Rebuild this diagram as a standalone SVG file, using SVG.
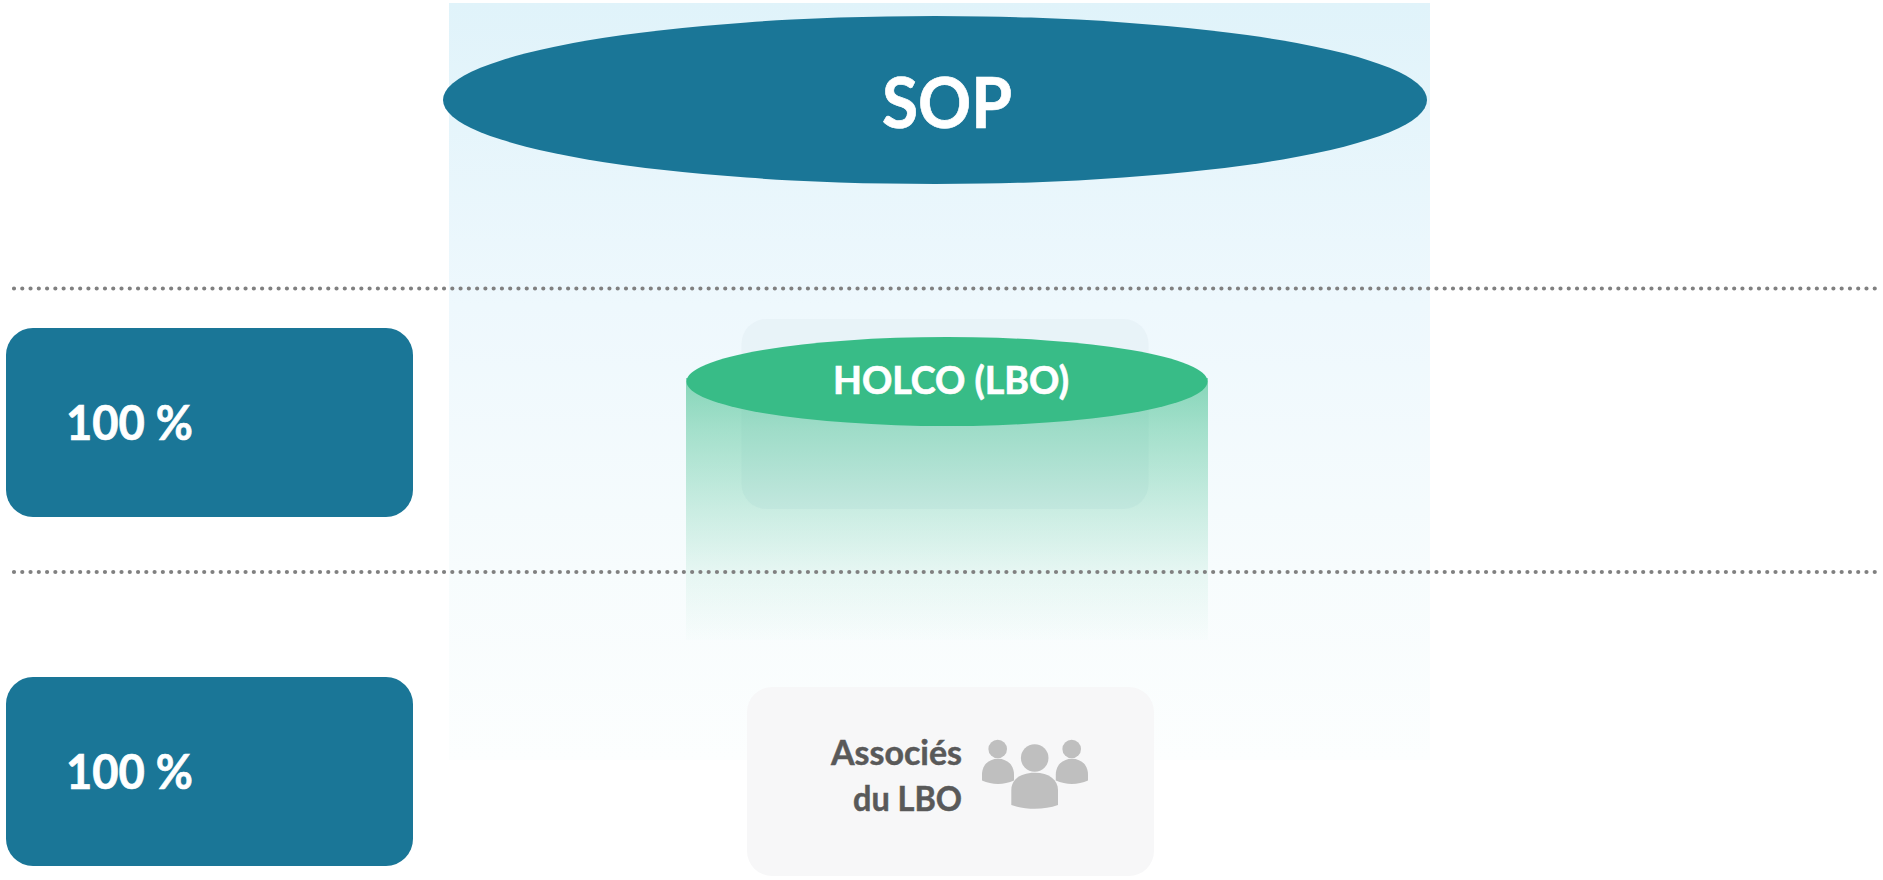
<svg xmlns="http://www.w3.org/2000/svg" width="1883" height="880" viewBox="0 0 1883 880">
  <style>
    text { font-family: "Lato", "Open Sans", sans-serif; font-weight: 700; }
    .w { fill: #ffffff; stroke: #ffffff; stroke-width: 0.7; }
    .g { fill: #595959; stroke: #595959; stroke-width: 0.5; font-size: 34px; text-anchor: end; }
    .pct { font-size: 47px; }
    .box { fill: #1a7697; }
    .p { fill: #bfbfbf; }
    .dots { fill: none; stroke: #808080; stroke-width: 4.2; stroke-linecap: round; stroke-dasharray: 0 8.27; }
  </style>
  <defs>
    <linearGradient id="bg" x1="0" y1="0" x2="0" y2="1">
      <stop offset="0" stop-color="#e0f3fa"/>
      <stop offset="0.4" stop-color="#eef8fd"/>
      <stop offset="0.75" stop-color="#f7fcfd"/>
      <stop offset="1" stop-color="#fcfefe"/>
    </linearGradient>
    <linearGradient id="cyl" x1="0" y1="0" x2="0" y2="1">
      <stop offset="0" stop-color="#38bc87" stop-opacity="0.58"/>
      <stop offset="0.2" stop-color="#38bc87" stop-opacity="0.42"/>
      <stop offset="0.5" stop-color="#38bc87" stop-opacity="0.23"/>
      <stop offset="0.74" stop-color="#38bc87" stop-opacity="0.09"/>
      <stop offset="1" stop-color="#38bc87" stop-opacity="0.01"/>
    </linearGradient>
  </defs>
  <rect width="1883" height="880" fill="#ffffff"/>
  <rect id="band" x="449" y="3" width="981" height="757" fill="url(#bg)"/>
  <g id="sop">
    <ellipse cx="935" cy="100" rx="492" ry="84" class="box"/>
    <text x="882" y="128" class="w" font-size="70" textLength="130" lengthAdjust="spacingAndGlyphs">SOP</text>
  </g>
  <g id="holco">
    <rect x="741.500" y="319" width="407" height="190" rx="25" fill="#e2eef3" fill-opacity="0.5"/>
    <rect x="686" y="378" width="522" height="262" fill="url(#cyl)"/>
    <ellipse cx="947" cy="381.500" rx="260.500" ry="44.500" fill="#38bc87"/>
    <text x="833" y="394" class="w" font-size="38" textLength="236" lengthAdjust="spacingAndGlyphs">HOLCO (LBO)</text>
  </g>
  <g id="pct1">
    <rect x="6" y="328" width="407" height="189" rx="27" class="box"/>
    <text x="66" y="440" class="w pct" textLength="127" lengthAdjust="spacingAndGlyphs">100 %</text>
  </g>
  <g id="pct2">
    <rect x="6" y="677" width="407" height="189" rx="27" class="box"/>
    <text x="66" y="789" class="w pct" textLength="127" lengthAdjust="spacingAndGlyphs">100 %</text>
  </g>
  <g id="associes">
    <rect x="747" y="687" width="407" height="189" rx="25" fill="#f7f7f8"/>
    <text x="962" y="765" class="g" textLength="131" lengthAdjust="spacingAndGlyphs">Associés</text>
    <text x="962" y="811" class="g" textLength="109" lengthAdjust="spacingAndGlyphs">du LBO</text>
    <g id="people">
      <circle cx="997.700" cy="749" r="9.300" class="p"/>
      <path d="M982 780.500V774.500C982 765 989 758.700 998 758.700S1014 765 1014 774.500V780.500C1004 785 992 785 982 780.500Z" class="p"/>
      <circle cx="1071.700" cy="749" r="9.300" class="p"/>
      <path d="M1055.800 780.500V774.500C1055.800 765 1063 758.700 1072 758.700S1088 765 1088 774.500V780.500C1078 785 1066 785 1055.800 780.500Z" class="p"/>
      <circle cx="1034.700" cy="758" r="13.800" class="p"/>
      <path d="M1011.300 805V790C1011.300 780 1020 772.700 1034.700 772.700S1058 780 1058 790V805C1044 810 1026 810 1011.300 805Z" class="p"/>
    </g>
  </g>
  <g id="connectors">
    <line x1="14" y1="288.500" x2="1878" y2="288.500" class="dots"/>
    <line x1="14" y1="572" x2="1878" y2="572" class="dots"/>
  </g>
</svg>
